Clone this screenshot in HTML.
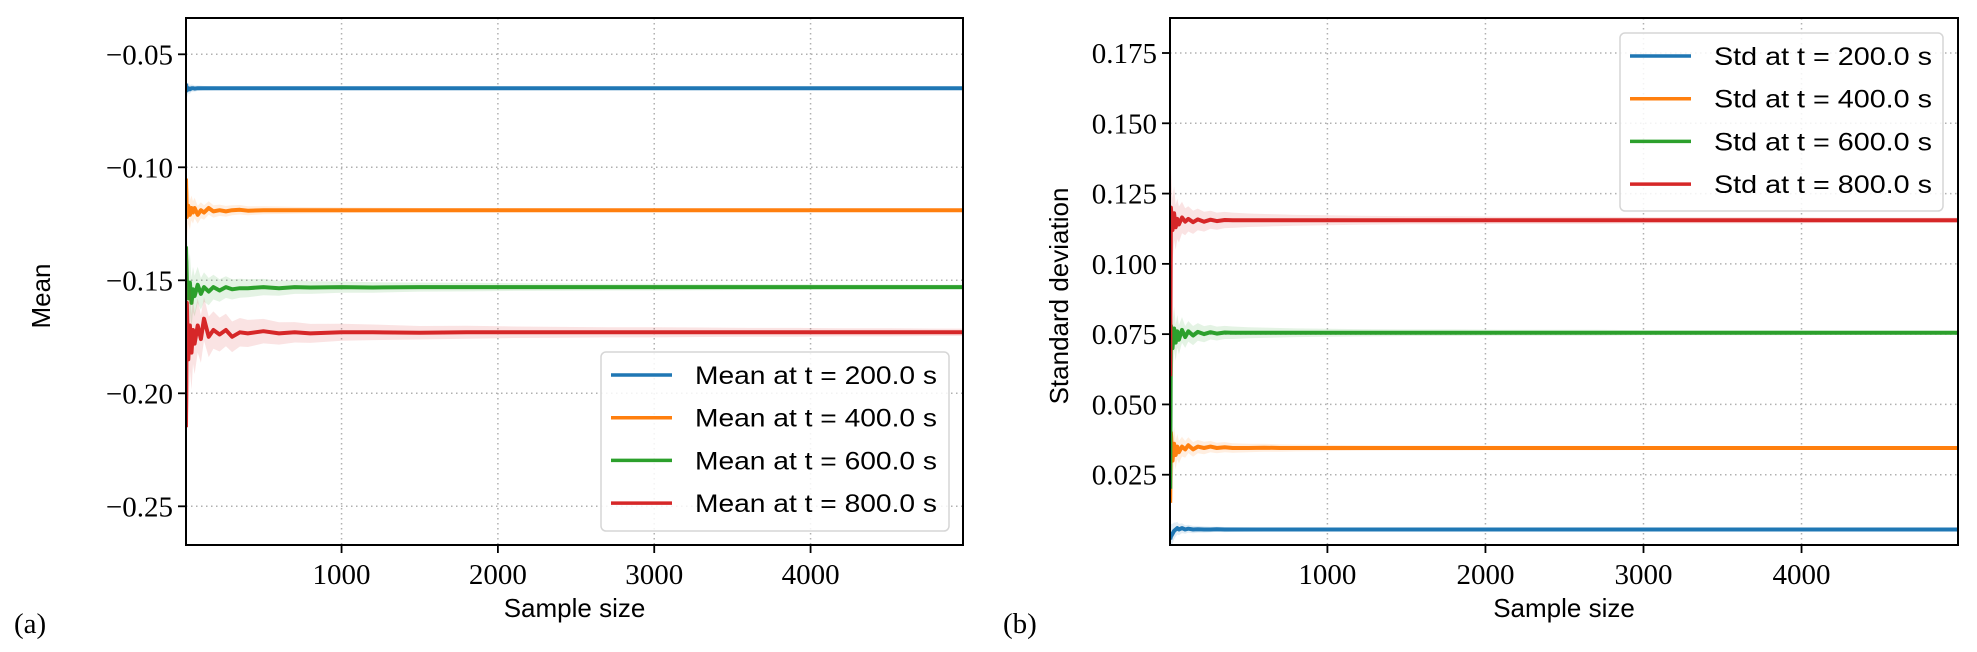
<!DOCTYPE html>
<html><head><meta charset="utf-8"><style>
html,body{margin:0;padding:0;background:#fff;}
svg{display:block;}
.tk{font-family:"Liberation Serif",serif;font-size:29px;fill:#000;}
.sn{font-family:"Liberation Sans",sans-serif;fill:#000;}
</style></head><body>
<svg id="fig" width="1977" height="652" viewBox="0 0 1977 652" xmlns="http://www.w3.org/2000/svg"></svg>
<script>
const xs=[5,10,20,30,40,50,60,80,100,120,150,180,220,260,300,350,400,500,600,700,800,1000,1200,1500,1800,2100,2400,2700,3000,3300,3600,3900,4200,4500,4800,4990];
const meanBlue=[-0.063,-0.066,-0.065,-0.0655,-0.065,-0.065,-0.0652,-0.065,-0.065,-0.065,-0.065,-0.065,-0.065,-0.065,-0.065,-0.065,-0.065,-0.065,-0.065,-0.065,-0.065,-0.065,-0.065,-0.065,-0.065,-0.065,-0.065,-0.065,-0.065,-0.065,-0.065,-0.065,-0.065,-0.065,-0.065,-0.065];
const meanOrange=[-0.105,-0.122,-0.117,-0.121,-0.118,-0.120,-0.118,-0.121,-0.119,-0.120,-0.118,-0.1195,-0.119,-0.1195,-0.119,-0.1188,-0.1192,-0.119,-0.119,-0.119,-0.119,-0.119,-0.119,-0.119,-0.119,-0.119,-0.119,-0.119,-0.119,-0.119,-0.119,-0.119,-0.119,-0.119,-0.119,-0.119];
const meanGreen=[-0.135,-0.150,-0.158,-0.151,-0.160,-0.154,-0.157,-0.152,-0.156,-0.153,-0.155,-0.153,-0.1545,-0.153,-0.154,-0.1535,-0.1535,-0.153,-0.1535,-0.153,-0.1532,-0.153,-0.1532,-0.153,-0.153,-0.153,-0.153,-0.153,-0.153,-0.153,-0.153,-0.153,-0.153,-0.153,-0.153,-0.153];
const meanRed=[-0.215,-0.160,-0.185,-0.170,-0.182,-0.172,-0.178,-0.170,-0.176,-0.167,-0.175,-0.172,-0.174,-0.172,-0.175,-0.173,-0.1735,-0.1725,-0.1735,-0.173,-0.1735,-0.173,-0.173,-0.1732,-0.173,-0.173,-0.173,-0.173,-0.173,-0.173,-0.173,-0.173,-0.173,-0.173,-0.173,-0.173];
const meanSpread=[0.03,0.022,0.016,0.013,0.011,0.010,0.009,0.008,0.007,0.0065,0.006,0.0055,0.005,0.0048,0.0045,0.0042,0.004,0.0036,0.0033,0.003,0.0028,0.0025,0.0023,0.002,0.0019,0.0017,0.0016,0.0015,0.0015,0.0014,0.0013,0.0013,0.0012,0.0012,0.0011,0.0011];
const meanSpreadScale=[0.15,0.5,1.0,1.5];
const stdBlue=[0.002,0.003,0.004,0.005,0.0055,0.006,0.0055,0.006,0.0055,0.0058,0.0055,0.0056,0.0055,0.0055,0.0056,0.0055,0.0055,0.0055,0.0055,0.0055,0.0055,0.0055,0.0055,0.0055,0.0055,0.0055,0.0055,0.0055,0.0055,0.0055,0.0055,0.0055,0.0055,0.0055,0.0055,0.0055];
const stdOrange=[0.015,0.040,0.030,0.036,0.032,0.035,0.033,0.035,0.034,0.0355,0.034,0.035,0.0345,0.035,0.0345,0.0348,0.0345,0.0345,0.0346,0.0345,0.0345,0.0345,0.0345,0.0345,0.0345,0.0345,0.0345,0.0345,0.0345,0.0345,0.0345,0.0345,0.0345,0.0345,0.0345,0.0345];
const stdGreen=[0.02,0.078,0.070,0.077,0.072,0.076,0.073,0.0765,0.074,0.076,0.0745,0.0758,0.075,0.0757,0.0752,0.0756,0.0755,0.0755,0.0755,0.0755,0.0755,0.0755,0.0755,0.0755,0.0755,0.0755,0.0755,0.0755,0.0755,0.0755,0.0755,0.0755,0.0755,0.0755,0.0755,0.0755];
const stdRed=[0.06,0.120,0.112,0.118,0.113,0.116,0.114,0.1165,0.115,0.116,0.1148,0.1158,0.115,0.1157,0.1152,0.1156,0.1155,0.1155,0.1155,0.1155,0.1155,0.1155,0.1155,0.1155,0.1155,0.1155,0.1155,0.1155,0.1155,0.1155,0.1155,0.1155,0.1155,0.1155,0.1155,0.1155];
const stdSpread=[0.012,0.009,0.007,0.006,0.005,0.0045,0.004,0.0035,0.003,0.0028,0.0026,0.0024,0.0022,0.002,0.0019,0.0018,0.0017,0.0015,0.0014,0.0013,0.0012,0.0011,0.001,0.0009,0.0009,0.0008,0.0008,0.0008,0.0007,0.0007,0.0007,0.0007,0.0006,0.0006,0.0006,0.0006];
const stdSpreadScale=[0.5,1.0,1.3,1.6];
const xTicks=[1000,2000,3000,4000];
const meanTicks=[-0.25,-0.20,-0.15,-0.10,-0.05];
const meanTickLabels=["\u22120.25","\u22120.20","\u22120.15","\u22120.10","\u22120.05"];
const stdTicks=[0.025,0.050,0.075,0.100,0.125,0.150,0.175];
const stdTickLabels=["0.025","0.050","0.075","0.100","0.125","0.150","0.175"];
const colors=["#1f77b4","#ff7f0e","#2ca02c","#d62728"];
const meanLabels=["Mean at t = 200.0 s","Mean at t = 400.0 s","Mean at t = 600.0 s","Mean at t = 800.0 s"];
const stdLabels=["Std at t = 200.0 s","Std at t = 400.0 s","Std at t = 600.0 s","Std at t = 800.0 s"];

const NS="http://www.w3.org/2000/svg";
const svg=document.getElementById('fig');
function mk(tag,attrs,parent){const e=document.createElementNS(NS,tag);for(const k in attrs)e.setAttribute(k,attrs[k]);(parent||svg).appendChild(e);return e;}

function panel(cfg){
  const g=mk('g',{});
  
  
  const X=v=>cfg.x0+(v-cfg.xmin)/(cfg.xmax-cfg.xmin)*(cfg.x1-cfg.x0);
  const Y=v=>cfg.y1-(v-cfg.ymin)/(cfg.ymax-cfg.ymin)*(cfg.y1-cfg.y0);
  xTicks.forEach(t=>{const l=mk('line',{x1:X(t),x2:X(t),y1:cfg.y0,y2:cfg.y1,stroke:'#b0b0b0','stroke-width':1.5,'stroke-dasharray':'1.5,3.5'},g);
    
    });
  cfg.yTicks.forEach(t=>{const l=mk('line',{x1:cfg.x0,x2:cfg.x1,y1:Y(t),y2:Y(t),stroke:'#b0b0b0','stroke-width':1.5,'stroke-dasharray':'1.5,3.5'},g);
    
    });
  const cid='clip-'+cfg.name;
  const cp=mk('clipPath',{id:cid},g);mk('rect',{x:cfg.x0,y:cfg.y0,width:cfg.x1-cfg.x0,height:cfg.y1-cfg.y0},cp);
  const dg=mk('g',{'clip-path':'url(#'+cid+')'},g);
  cfg.series.forEach((s,i)=>{
    const sc=cfg.scale[i];
    let up='',dn='';
    xs.forEach((x,j)=>{up+=(j?'L':'M')+X(x).toFixed(1)+','+Y(s[j]+cfg.spread[j]*sc).toFixed(1);});
    for(let j=xs.length-1;j>=0;j--){dn+='L'+X(xs[j]).toFixed(1)+','+Y(s[j]-cfg.spread[j]*sc).toFixed(1);}
    const b=mk('path',{d:up+dn+'Z',fill:colors[i],'fill-opacity':0.13,stroke:'none'},dg);
    
    
    const p=mk('path',{d:xs.map((x,j)=>(j?'L':'M')+X(x).toFixed(1)+','+Y(s[j]).toFixed(1)).join(''),fill:'none',stroke:colors[i],'stroke-width':4,'stroke-linejoin':'round'},dg);
    
    
  });
  const fr=mk('rect',{x:cfg.x0,y:cfg.y0,width:cfg.x1-cfg.x0,height:cfg.y1-cfg.y0,fill:'none',stroke:'#000','stroke-width':2},g);
  
  
  xTicks.forEach(t=>{mk('line',{x1:X(t),x2:X(t),y1:cfg.y1,y2:cfg.y1+8,stroke:'#000','stroke-width':1.8},g);
    const tx=mk('text',{x:X(t),y:cfg.y1+39,'text-anchor':'middle',class:'tk'},g);tx.textContent=t;
    
    });
  cfg.yTicks.forEach((t,k)=>{mk('line',{x1:cfg.x0-8,x2:cfg.x0,y1:Y(t),y2:Y(t),stroke:'#000','stroke-width':1.8},g);
    const tx=mk('text',{x:cfg.x0-13,y:Y(t)+10,'text-anchor':'end',class:'tk'},g);tx.textContent=cfg.yTickLabels[k];
    
    });
  const xl=mk('text',{x:(cfg.x0+cfg.x1)/2,y:617,'text-anchor':'middle',class:'sn','font-size':26},g);xl.textContent='Sample size';
  
  
  const yl=mk('text',{x:0,y:0,'text-anchor':'middle',class:'sn','font-size':26,transform:'translate('+cfg.ylx+',296) rotate(-90)'},g);yl.textContent=cfg.ylabel;
  
  
  const pl=mk('text',{x:cfg.px,y:633,class:'tk','font-size':30},g);pl.textContent=cfg.plabel;
  
  
  const L=cfg.leg;
  const lg=mk('g',{},g);
  
  
  mk('rect',{x:L.x,y:L.y,width:L.w,height:L.h,rx:5,fill:'#fff','fill-opacity':0.85,stroke:'#d6d6d6','stroke-width':1.5},lg);
  cfg.labels.forEach((lab,i)=>{
    const cy=L.y+23+i*42.7;
    const e=mk('g',{},lg);
    
    
    mk('line',{x1:L.x+10,x2:L.x+71,y1:cy,y2:cy,stroke:colors[i],'stroke-width':3.5},e);
    const t=mk('text',{x:L.x+94,y:cy+9,class:'sn','font-size':25,textLength:L.tl,lengthAdjust:'spacingAndGlyphs'},e);t.textContent=lab;
  });
}
panel({name:'mean-panel',x0:186,x1:963,y0:18,y1:545,xmin:5,xmax:4975,ymin:-0.26712,ymax:-0.03394,
  yTicks:meanTicks,yTickLabels:meanTickLabels,series:[meanBlue,meanOrange,meanGreen,meanRed],spread:meanSpread,scale:meanSpreadScale,
  ylabel:'Mean',ylx:50,plabel:'(a)',px:14,labels:meanLabels,leg:{x:601,y:352,w:348,h:179,tl:242}});
panel({name:'std-panel',x0:1170,x1:1958,y0:18,y1:545,xmin:4,xmax:4990,ymin:0.0,ymax:0.18745,
  yTicks:stdTicks,yTickLabels:stdTickLabels,series:[stdBlue,stdOrange,stdGreen,stdRed],spread:stdSpread,scale:stdSpreadScale,
  ylabel:'Standard deviation',ylx:1068,plabel:'(b)',px:1003,labels:stdLabels,leg:{x:1620,y:33,w:323,h:178,tl:218}});
</script>
</body></html>
